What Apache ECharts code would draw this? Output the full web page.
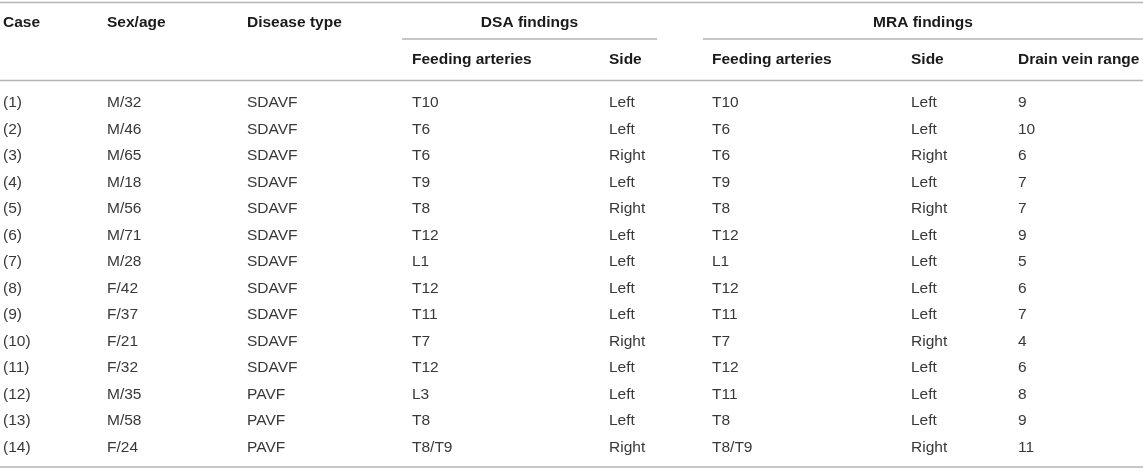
<!DOCTYPE html>
<html>
<head>
<meta charset="utf-8">
<title>DSA vs MRA findings</title>
<script src="https://cdn.jsdelivr.net/npm/echarts@6.0.0/dist/echarts.min.js"></script>
<style>
  html, body { margin: 0; padding: 0; background: #fff; }
  #chart { width: 1143px; height: 471px; }
</style>
</head>
<body>
<div id="chart"></div>
<script>
// ===== Data =====
var cases = ['(1)', '(2)', '(3)', '(4)', '(5)', '(6)', '(7)', '(8)', '(9)', '(10)', '(11)', '(12)', '(13)', '(14)'];
var sexAge = ['M/32', 'M/46', 'M/65', 'M/18', 'M/56', 'M/71', 'M/28', 'F/42', 'F/37', 'F/21', 'F/32', 'M/35', 'M/58', 'F/24'];
var diseaseType = ['SDAVF', 'SDAVF', 'SDAVF', 'SDAVF', 'SDAVF', 'SDAVF', 'SDAVF', 'SDAVF', 'SDAVF', 'SDAVF', 'SDAVF', 'PAVF', 'PAVF', 'PAVF'];
var dsaArteries = ['T10', 'T6', 'T6', 'T9', 'T8', 'T12', 'L1', 'T12', 'T11', 'T7', 'T12', 'L3', 'T8', 'T8/T9'];
var dsaSide = ['Left', 'Left', 'Right', 'Left', 'Right', 'Left', 'Left', 'Left', 'Left', 'Right', 'Left', 'Left', 'Left', 'Right'];
var mraArteries = ['T10', 'T6', 'T6', 'T9', 'T8', 'T12', 'L1', 'T12', 'T11', 'T7', 'T12', 'T11', 'T8', 'T8/T9'];
var mraSide = ['Left', 'Left', 'Right', 'Left', 'Right', 'Left', 'Left', 'Left', 'Left', 'Right', 'Left', 'Left', 'Left', 'Right'];
var drainRange = [9, 10, 6, 7, 7, 9, 5, 6, 7, 4, 6, 8, 9, 11];

var topHeaders = ['Case', 'Sex/age', 'Disease type'];
var groupHeaders = ['DSA findings', 'MRA findings'];
var subHeaders = ['Feeding arteries', 'Side', 'Feeding arteries', 'Side', 'Drain vein range'];

(function() {
  // layout (pixel units on a hidden 0..1143 / 0..471 scale)
  var W = 1143, H = 471;
  var colX = [3, 107, 247, 412, 609, 712, 911, 1018];
  var groupSpan = [[402, 657], [703, 1143]];
  var headY1 = 23, headY2 = 60;
  var firstRowY = 103, rowStep = 26.5;
  var ruleTop = 2.5, ruleHead = 80.5, ruleBottom = 467, ruleGroup = 39;

  var ink = '#1a1a1a';
  var body = '#383838';
  var rule = '#b4b4b4';
  var fontFamily = '"Liberation Sans", Arial, Helvetica, sans-serif';

  var columns = [cases, sexAge, diseaseType, dsaArteries, dsaSide, mraArteries, mraSide, drainRange];

  // cells: [x, y, text, bold, align]
  var cells = [];
  topHeaders.forEach(function(t, j) { cells.push([colX[j], headY1, t, 1, 'left']); });
  groupHeaders.forEach(function(t, j) {
    cells.push([(groupSpan[j][0] + groupSpan[j][1]) / 2, headY1, t, 1, 'center']);
  });
  subHeaders.forEach(function(t, j) { cells.push([colX[j + 3], headY2, t, 1, 'left']); });
  columns.forEach(function(col, j) {
    col.forEach(function(v, i) {
      cells.push([colX[j], firstRowY + i * rowStep, String(v), 0, 'left']);
    });
  });

  // rules: [x1, x2, y]
  var rules = [
    [0, W, ruleTop],
    [groupSpan[0][0], groupSpan[0][1], ruleGroup],
    [groupSpan[1][0], groupSpan[1][1], ruleGroup],
    [0, W, ruleHead],
    [0, W, ruleBottom]
  ];

  var chart = echarts.init(document.getElementById('chart'), null, { renderer: 'canvas' });
  chart.setOption({
    animation: false,
    grid: { left: 0, right: 0, top: 0, bottom: 0 },
    xAxis: { type: 'value', min: 0, max: W, show: false },
    yAxis: { type: 'value', min: 0, max: H, inverse: true, show: false },
    series: [
      {
        type: 'custom',
        data: rules,
        renderItem: function(params, api) {
          var a = api.coord([api.value(0), api.value(2)]);
          var b = api.coord([api.value(1), api.value(2)]);
          return {
            type: 'line',
            shape: { x1: a[0], y1: a[1], x2: b[0], y2: b[1] },
            style: { stroke: rule, lineWidth: 1.5 }
          };
        }
      },
      {
        type: 'custom',
        data: cells,
        dimensions: ['x', 'y', 'text', 'bold', 'align'],
        renderItem: function(params, api) {
          var item = cells[params.dataIndex];
          var p = api.coord([item[0], item[1]]);
          return {
            type: 'text',
            x: p[0],
            y: p[1],
            style: {
              text: item[2],
              fill: item[3] ? ink : body,
              fontFamily: fontFamily,
              fontSize: 15.5,
              fontWeight: item[3] ? 'bold' : 'normal',
              align: item[4],
              verticalAlign: 'middle'
            }
          };
        }
      }
    ]
  });
})();
</script>
</body>
</html>
